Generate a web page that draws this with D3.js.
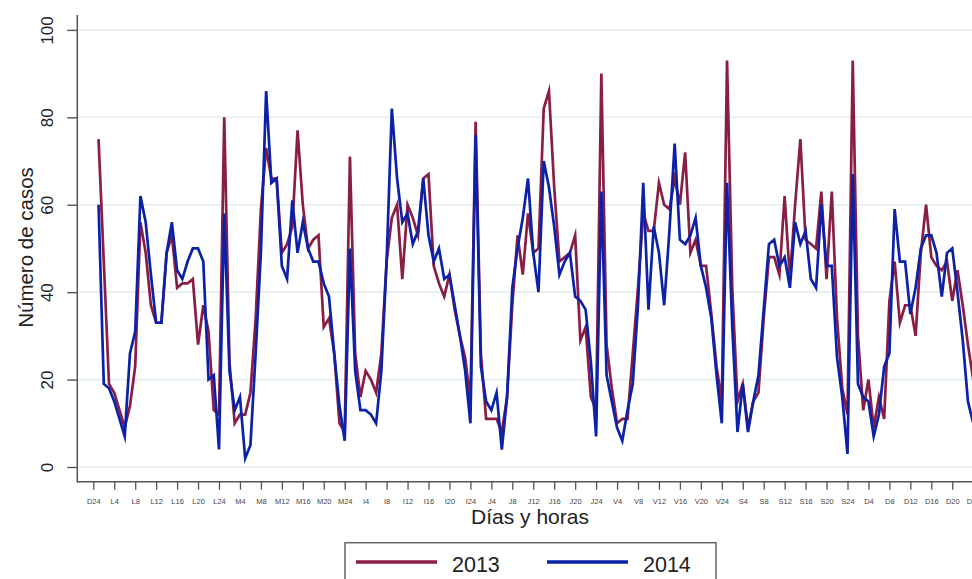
<!DOCTYPE html>
<html><head><meta charset="utf-8">
<script src="https://cdn.jsdelivr.net/npm/d3@7"></script>
<style>body{margin:0;background:#fff;} svg{display:block;font-family:"Liberation Sans",Arial,sans-serif;}</style>
</head><body><svg id="c" width="972" height="579"></svg>
<script>
// Hourly cases, hour 1..168 of the week (starting after Sunday 24h)
const cases2013 = [75,47,19,17,13,9,14,23,56,49,37,33,33,49,53,41,42,42,43,28,37,31,13,12,
  80,24,10,12,12,17,34,59,73,66,66,49,51,55,77,60,50,52,53,32,34,26,10,8,
  71,26,16,22,20,17,26,47,57,60,43,60,57,53,66,67,46,42,39,44,36,30,25,15,
  79,26,11,11,11,8,16,37,53,44,58,49,50,82,86,64,47,48,49,53,29,32,16,13,
  90,28,18,10,11,11,26,41,58,54,54,65,60,59,66,60,72,49,52,46,46,35,23,15,
  93,41,15,19,9,15,17,34,48,48,44,62,43,60,75,52,51,50,63,43,63,34,18,12,
  93,30,13,20,9,16,11,38,47,33,37,37,30,49,60,48,46,45,47,38,45,37,28,20];
const cases2014 = [60,19,18,15,11,7,26,31,62,56,44,33,33,49,56,45,43,47,50,50,47,20,21,4,
  58,22,13,16,2,5,26,49,86,65,66,46,43,61,49,56,50,47,47,42,39,26,14,6,
  50,22,13,13,12,10,22,47,82,66,56,58,51,54,66,53,47,50,43,44,37,30,22,10,
  76,23,15,13,17,4,16,41,50,57,66,49,40,70,64,55,44,47,49,39,38,36,24,7,
  63,21,15,9,6,13,19,37,65,36,55,49,37,54,74,52,51,53,57,46,41,34,21,10,
  65,32,8,19,8,15,21,36,51,52,46,48,41,56,51,54,43,41,60,46,46,25,16,3,
  67,19,16,15,7,12,23,26,59,47,47,35,41,50,53,53,49,39,49,50,40,29,15,10];
const tickLabels = ["D24","L4","L8","L12","L16","L20","L24","M4","M8","M12","M16","M20","M24",
  "I4","I8","I12","I16","I20","I24","J4","J8","J12","J16","J20","J24","V4","V8","V12","V16","V20","V24",
  "S4","S8","S12","S16","S20","S24","D4","D8","D12","D16","D20","D24"];
const yTicks = [0,20,40,60,80,100];
const seriesNames = ["2013","2014"];
const seriesColors = ["#8a1d44","#0b22a8"];

const svg = d3.select("#c");
const x = d3.scaleLinear().domain([0,168]).range([93.3,973.2]);
const y = d3.scaleLinear().domain([0,100]).range([467,29.9]);
const axisX = 77.3, axisY = 481.7;

// gridlines
svg.append("g").selectAll("line").data(yTicks).join("line")
  .attr("x1",axisX+1).attr("x2",972).attr("y1",d=>y(d)).attr("y2",d=>y(d))
  .attr("stroke","#e4eef0").attr("stroke-width",1.6);

// lines
const line = d3.line().x((d,i)=>x(i+1)).y(d=>y(d));
[cases2013,cases2014].forEach((s,k)=>{
  svg.append("path").datum(s).attr("d",line).attr("fill","none")
    .attr("stroke",seriesColors[k]).attr("stroke-width",2.7)
    .attr("stroke-linejoin","miter").attr("stroke-miterlimit",6);
});

// y axis
const yAxis = d3.axisLeft(y).tickValues(yTicks).tickSize(10).tickFormat(d3.format("d"));
const gy = svg.append("g").attr("transform",`translate(${axisX},0)`).call(yAxis);
gy.select(".domain").remove();
gy.selectAll(".tick line").attr("stroke","#555").attr("stroke-width",1.4);
gy.selectAll(".tick text").attr("x",null).attr("dy",null)
  .attr("transform","translate(-24.5,0) rotate(-90)")
  .attr("text-anchor","middle").attr("font-size",17).attr("fill","#222");
svg.append("line").attr("x1",axisX).attr("x2",axisX).attr("y1",15).attr("y2",axisY+0.7)
  .attr("stroke","#555").attr("stroke-width",1.5);

// x axis
const xAxis = d3.axisBottom(x).tickValues(d3.range(0,169,4)).tickSize(8)
  .tickFormat((d,i)=>tickLabels[i]);
const gx = svg.append("g").attr("transform",`translate(0,${axisY})`).call(xAxis);
gx.select(".domain").remove();
gx.selectAll(".tick line").attr("stroke","#555").attr("stroke-width",1.3);
gx.selectAll(".tick text").attr("y",22).attr("dy",null)
  .attr("font-size",7.5).attr("fill","#444");
svg.append("line").attr("x1",axisX).attr("x2",972).attr("y1",axisY).attr("y2",axisY)
  .attr("stroke","#555").attr("stroke-width",1.5);

// titles
svg.append("text").attr("x",530).attr("y",523.5).attr("text-anchor","middle")
  .attr("font-size",21).attr("fill","#222").text("Días y horas");
svg.append("text").attr("transform","translate(33,247.5) rotate(-90)").attr("text-anchor","middle")
  .attr("font-size",20.5).attr("fill","#222").text("Número de casos");

// legend
svg.append("rect").attr("x",345).attr("y",542.7).attr("width",371).attr("height",60)
  .attr("fill","#fff").attr("stroke","#666").attr("stroke-width",1.5);
const lx = [356,547];
seriesNames.forEach((n,k)=>{
  svg.append("line").attr("x1",lx[k]).attr("x2",lx[k]+81).attr("y1",562).attr("y2",562)
    .attr("stroke",seriesColors[k]).attr("stroke-width",3.5);
  svg.append("text").attr("x",lx[k]+96).attr("y",571.5).attr("font-size",21.5)
    .attr("fill","#222").text(n);
});
</script></body></html>
